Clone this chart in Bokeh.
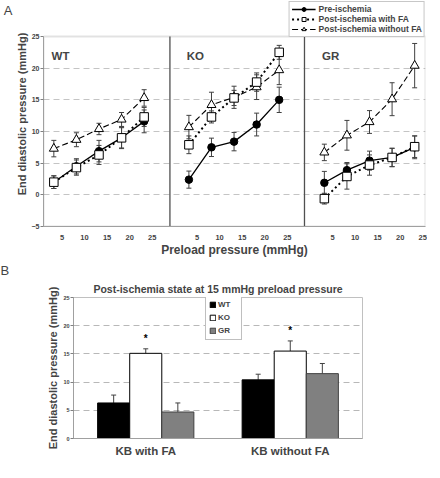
from bokeh.plotting import figure
from bokeh.models import (ColumnDataSource, Whisker, TeeHead, Label, Legend, LegendItem,
                          FixedTicker, Range1d, FactorRange, BoxAnnotation, Title, LinearAxis)
from bokeh.embed import file_html
from bokeh.resources import INLINE
from bokeh.transform import dodge
from bokeh.core.properties import value

FONT = "Liberation Sans"

# ---------------- Panel A data ----------------
preload = [5, 10, 15, 20, 25]
panels = ["WT", "KO", "GR"]

wt_pre = [2.0, 4.5, 6.9, 9.0, 11.6]
wt_pre_err = [1.0, 1.2, 1.7, 1.6, 1.8]
wt_fa = [2.0, 4.3, 6.3, 9.0, 12.3]
wt_fa_err = [1.0, 1.2, 1.5, 1.7, 1.5]
wt_nofa = [7.3, 8.7, 10.4, 11.9, 15.3]
wt_nofa_err = [1.3, 1.1, 0.9, 1.1, 1.3]

ko_pre = [2.4, 7.5, 8.4, 11.1, 15.0]
ko_pre_err = [1.35, 1.45, 1.45, 1.8, 2.0]
ko_fa = [7.9, 12.3, 15.3, 17.8, 22.5]
ko_fa_err = [1.4, 0.95, 1.2, 1.45, 1.1]
ko_nofa = [10.7, 14.2, 15.4, 17.0, 19.7]
ko_nofa_err = [1.85, 2.0, 1.75, 1.95, 2.3]

gr_pre = [1.9, 3.9, 5.4, 5.9, 7.5]
gr_pre_err = [1.8, 1.2, 1.5, 1.45, 1.8]
gr_fa = [-0.6, 2.9, 4.7, 5.9, 7.6]
gr_fa_err = [0.85, 2.0, 1.6, 1.45, 1.7]
gr_nofa = [6.7, 9.4, 11.5, 15.1, 20.4]
gr_nofa_err = [1.3, 2.35, 1.8, 2.6, 3.5]

series_labels = ["Pre-ischemia", "Post-ischemia with FA", "Post-ischemia without FA"]
y_ticks_a = [-5, 0, 5, 10, 15, 20, 25]

# ---------------- Panel B data ----------------
conditions = ["KB with FA", "KB without FA"]
b_groups = ["WT", "KO", "GR"]
wt_b = [6.3, 10.4]
wt_b_err = [1.4, 1.0]
ko_b = [15.1, 15.5]
ko_b_err = [0.8, 1.8]
gr_b = [4.7, 11.5]
gr_b_err = [1.6, 1.8]
ko_b_sig = ["*", "*"]
y_ticks_b = [0, 5, 10, 15, 20, 25]

# ---------------- layout constants ----------------
panel_offset = [-2.71, 27.2, 57.2]   # local preload -> shared x axis
dividers = [28.0, 57.8]
tick_shift = 1.8
X_MAX = 84.6
Y_MIN, Y_MAX = -5, 25

FW_A, FH_A = 382, 225
LEG_BAND = 35                       # px above the plot box reserved for the legend
px_per_unit = (FH_A - LEG_BAND) / (Y_MAX - Y_MIN)
y_top = Y_MAX + LEG_BAND / px_per_unit

pA = figure(frame_width=FW_A, frame_height=FH_A, x_range=Range1d(0, X_MAX),
            y_range=Range1d(Y_MIN, y_top),
            output_backend="svg", toolbar_location=None,
            min_border_left=40, min_border_right=2, min_border_top=1, min_border_bottom=29)
pA.outline_line_color = None
pA.background_fill_color = "white"
pA.xgrid.visible = False
pA.ygrid.ticker = FixedTicker(ticks=[0, 5, 10, 15, 20])
pA.ygrid.grid_line_color = "#c4c4c4"
pA.ygrid.grid_line_dash = "6 4"
pA.ygrid.grid_line_width = 1.2

ya = pA.yaxis[0]
ya.ticker = FixedTicker(ticks=y_ticks_a)
ya.bounds = (Y_MIN, Y_MAX)
ya.axis_label = "End diastolic pressure (mmHg)"
ya.axis_label_text_font = FONT
ya.axis_label_text_font_style = "bold"
ya.axis_label_text_font_size = "11px"
ya.axis_label_standoff = 1
ya.major_label_text_font = FONT
ya.major_label_text_font_style = "bold"
ya.major_label_text_font_size = "7px"
ya.major_label_standoff = 1
ya.major_tick_out = 3
ya.major_tick_in = 0
ya.minor_tick_line_color = None
ya.minor_tick_out = 0
ya.minor_tick_in = 0
ya.axis_line_color = "#a0a0a0"
ya.major_tick_line_color = "#808080"

# panel letter "A" on an extra, otherwise empty, left axis (label at the top end)
letter_axis = LinearAxis(ticker=FixedTicker(ticks=[]), axis_line_color=None,
                         major_tick_line_color=None, minor_tick_line_color=None,
                         major_tick_out=0, minor_tick_out=0, major_label_standoff=0,
                         axis_label="\nA", axis_label_standoff=0,
                         axis_label_text_font=FONT, axis_label_text_font_style="normal",
                         axis_label_text_font_size="13px")
try:
    letter_axis.axis_label_orientation = "horizontal"
    letter_axis.axis_label_align = "end"
except Exception:
    pass
pA.add_layout(letter_axis, "left")

tick_pos = []
overrides = {}
for off in panel_offset:
    for v in preload:
        t = round(v + off + tick_shift, 2)
        tick_pos.append(t)
        overrides[t] = str(v)
xa = pA.xaxis[0]
xa.ticker = FixedTicker(ticks=tick_pos)
xa.major_label_overrides = overrides
xa.axis_label = "Preload pressure (mmHg)"
xa.axis_label_text_font = FONT
xa.axis_label_text_font_style = "bold"
xa.axis_label_text_font_size = "12px"
xa.axis_label_standoff = 0
xa.major_label_text_font = FONT
xa.major_label_text_font_style = "bold"
xa.major_label_text_font_size = "7.5px"
xa.major_label_standoff = 8
xa.major_tick_line_color = None
xa.major_tick_out = 0
xa.major_tick_in = 0
xa.minor_tick_line_color = None
xa.minor_tick_out = 0
xa.minor_tick_in = 0
xa.axis_line_color = "#a0a0a0"

# plot box and panel dividers
pA.add_layout(BoxAnnotation(left=0, right=X_MAX, bottom=Y_MIN, top=Y_MAX,
                            fill_color=None, fill_alpha=0, line_color="#a0a0a0", line_width=2,
                            level="underlay"))
pA.segment(x0=dividers, y0=[Y_MIN] * len(dividers), x1=dividers, y1=[Y_MAX] * len(dividers),
           line_color="#505050", line_width=1.3)

panel_data = {
    "WT": [(wt_pre, wt_pre_err), (wt_fa, wt_fa_err), (wt_nofa, wt_nofa_err)],
    "KO": [(ko_pre, ko_pre_err), (ko_fa, ko_fa_err), (ko_nofa, ko_nofa_err)],
    "GR": [(gr_pre, gr_pre_err), (gr_fa, gr_fa_err), (gr_nofa, gr_nofa_err)],
}
line_styles = [dict(line_dash="solid", line_width=1.3),
               dict(line_dash="2 3", line_width=2.0),
               dict(line_dash="6 3", line_width=1.1)]
marker_styles = [dict(marker="circle", size=7.5, fill_color="black"),
                 dict(marker="square", size=8.5, fill_color="white"),
                 dict(marker="triangle", size=9, fill_color="white")]
draw_order = [0, 2, 1]

legend_renderers = {}
for k, g in enumerate(panels):
    off = panel_offset[k]
    xs = [v + off for v in preload]
    sources = []
    for s, (means, errs) in enumerate(panel_data[g]):
        src = ColumnDataSource(dict(x=xs, y=means,
                                    lo=[m - e for m, e in zip(means, errs)],
                                    hi=[m + e for m, e in zip(means, errs)]))
        sources.append(src)
        w = Whisker(source=src, base="x", lower="lo", upper="hi", dimension="height",
                    line_color="#404040", line_width=1, level="underlay",
                    upper_head=TeeHead(size=5, line_color="#404040", line_width=1),
                    lower_head=TeeHead(size=5, line_color="#404040", line_width=1))
        pA.add_layout(w)
    line_r = {}
    for s in range(3):
        line_r[s] = pA.line("x", "y", source=sources[s], line_color="black", **line_styles[s])
    for s in draw_order:
        mr = pA.scatter("x", "y", source=sources[s], line_color="black", line_width=1,
                        **marker_styles[s])
        if k == 0:
            legend_renderers[s] = [line_r[s], mr]
    pA.add_layout(Label(x=off + 4.5, y=22.0, text=g, text_font=FONT,
                        text_font_style="bold", text_font_size="11.5px",
                        text_baseline="middle", text_align="left"))

legA = Legend(items=[LegendItem(label=series_labels[s], renderers=legend_renderers[s]) for s in range(3)],
              location="top_right", orientation="vertical",
              label_text_font=FONT, label_text_font_style="bold", label_text_font_size="8.5px",
              glyph_width=24, glyph_height=10, label_height=10, label_standoff=3,
              padding=2, spacing=0, margin=0,
              border_line_color="#909090", border_line_width=1,
              background_fill_color="white", background_fill_alpha=1)
pA.add_layout(legA)

# ---------------- Panel B ----------------
FW_B, FH_B = 289, 141
pB = figure(frame_width=FW_B, frame_height=FH_B, x_range=FactorRange(*conditions, range_padding=0),
            y_range=Range1d(0, 25), output_backend="svg", toolbar_location=None,
            min_border_left=73, min_border_right=62, min_border_top=38, min_border_bottom=22)
# the plot's own title is the outermost panel: use it for the letter "B"
pB.title = Title(text="B", align="left", offset=-73, standoff=0, text_font=FONT,
                 text_font_style="normal", text_font_size="13px")
main_title = Title(text="Post-ischemia state at 15 mmHg preload pressure", align="center",
                   text_font=FONT, text_font_style="bold", text_font_size="10.5px", standoff=6)
pB.add_layout(main_title, "above")
pB.outline_line_color = "#c0c0c0"
pB.xgrid.visible = False
pB.ygrid.ticker = FixedTicker(ticks=[5, 10, 15, 20])
pB.ygrid.grid_line_color = "#b8b8b8"
pB.ygrid.grid_line_dash = "6 4"

yb = pB.yaxis[0]
yb.ticker = FixedTicker(ticks=y_ticks_b)
yb.axis_label = "End diastolic pressure (mmHg)"
yb.axis_label_text_font = FONT
yb.axis_label_text_font_style = "bold"
yb.axis_label_text_font_size = "11px"
yb.axis_label_standoff = 1
yb.major_label_text_font = FONT
yb.major_label_text_font_style = "bold"
yb.major_label_text_font_size = "5.5px"
yb.major_label_standoff = 1
yb.major_tick_out = 3
yb.major_tick_in = 0
yb.minor_tick_line_color = None
yb.axis_line_color = "#a0a0a0"
yb.major_tick_line_color = "#808080"

xb = pB.xaxis[0]
xb.major_label_text_font = FONT
xb.major_label_text_font_style = "bold"
xb.major_label_text_font_size = "11.5px"
xb.major_label_standoff = 6
xb.major_tick_line_color = None
xb.major_tick_out = 0
xb.major_tick_in = 0
xb.axis_line_color = "#a0a0a0"

bar_vals = [(wt_b, wt_b_err), (ko_b, ko_b_err), (gr_b, gr_b_err)]
bar_fill = ["black", "white", "#808080"]
bar_line = ["black", "black", "#404040"]
bar_w = 0.222
bar_off = [-bar_w, 0.0, bar_w]
bar_r = []
for i, g in enumerate(b_groups):
    vals, errs = bar_vals[i]
    src = ColumnDataSource(dict(cond=conditions, v=vals, hi=[a + e for a, e in zip(vals, errs)]))
    xspec = dodge("cond", bar_off[i], range=pB.x_range)
    pB.add_layout(Whisker(source=src, base=xspec, lower="v", upper="hi", dimension="height",
                          line_color="#404040", line_width=1, level="underlay",
                          upper_head=TeeHead(size=5, line_color="#404040", line_width=1),
                          lower_head=None))
    r = pB.vbar(x=xspec, top="v", width=bar_w, source=src,
                fill_color=bar_fill[i], line_color=bar_line[i], line_width=1)
    bar_r.append(r)
    if g == "KO":
        star_src = ColumnDataSource(dict(cond=conditions, y=[h + 1.8 for h in src.data["hi"]],
                                         t=ko_b_sig))
        pB.text(x=xspec, y="y", text="t", source=star_src, text_font=value(FONT),
                text_font_style="bold", text_font_size="10px", text_align="center",
                text_baseline="middle", text_color="black")

legB = Legend(items=[LegendItem(label=g, renderers=[bar_r[i]]) for i, g in enumerate(b_groups)],
              location=(132, FH_B - 43), orientation="vertical",
              label_text_font=FONT, label_text_font_style="bold", label_text_font_size="8px",
              glyph_width=7, glyph_height=7, label_height=11, label_standoff=2,
              padding=3, spacing=2, margin=0,
              border_line_color="#808080", border_line_width=1,
              background_fill_color="white", background_fill_alpha=1)
pB.add_layout(legB)

open("out.html", "w").write(file_html([pA, pB], INLINE))
